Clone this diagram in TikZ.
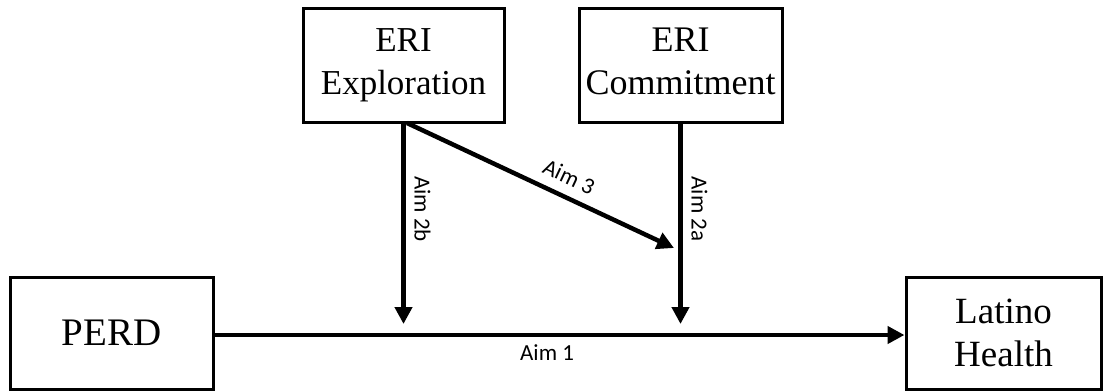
\documentclass[tikz,border=0pt]{standalone}
\usepackage{fontspec}
\setmainfont{Liberation Serif}
\newfontfamily\aimfont{Carlito}
\usetikzlibrary{arrows.meta,positioning}
\tikzset{
  caja/.style={draw, line width=3pt, align=center, font=\fontsize{35}{43}\selectfont, inner sep=0pt},
  flecha/.style={line width=4.5pt, -{Triangle[length=17pt,width=17pt]}},
  etiqueta/.style={font=\aimfont\fontsize{23}{25}\selectfont, inner sep=1pt}
}
\begin{document}
\begin{tikzpicture}[x=1pt, y=-1pt]
        \useasboundingbox (0,0) rectangle (1106,391);
        %%%%%%%%%%%%%%%%%%%%%%%% Cajas %%%%%%%%%%%%%%%%%%%%%%%%%%%%%%%%%%%
        \node[caja, minimum width=201pt, minimum height=114pt] (explo) at (403.5,65.5) {ERI\\Exploration};
        \node[caja, minimum width=203pt, minimum height=114pt, font=\fontsize{36}{43}\selectfont, text depth=8pt] (compro) at (680.5,65.5) {ERI\\Commitment};
        \node[caja, minimum width=203pt, minimum height=112pt, font=\fontsize{39}{43}\selectfont] (perd) at (111.5,333) {PERD};
        \node[caja, minimum width=195pt, minimum height=112pt, font=\fontsize{37}{43}\selectfont] (salud) at (1003.5,333) {Latino\\Health};
        %%%%%%%%%%%%%%%%%%%%%%%% Puntos de llegada %%%%%%%%%%%%%%%%%%%%%%%%%%
        \coordinate (fin2b) at (403.5,324);
        \coordinate (fin2a) at (680.5,324);
        \coordinate (fin3) at (674,248);
        \coordinate (ini3) at (407,123);
        %%%%%%%%%%%%%%%%%%%%%%%% Flechas %%%%%%%%%%%%%%%%%%%%%%%%%%%%%%%%%%
        \draw[flecha] (perd.east |- 0,335) -- (salud.west |- 0,335) node[etiqueta, pos=0.482, below=6pt] (aim1) {Aim 1}; %Aim 1
        \draw[flecha] (explo.south) -- (fin2b) node[etiqueta, pos=0.425, rotate=-90, anchor=south, outer sep=10pt] (aim2b) {Aim 2b};
        \draw[flecha] (compro.south) -- (fin2a) node[etiqueta, pos=0.425, rotate=-90, anchor=south, outer sep=10pt] (aim2a) {Aim 2a};
        \draw[flecha] (ini3) -- (fin3) node[etiqueta, pos=0.575, sloped, above=9pt] (aim3) {Aim 3}; %Moderacion
      \end{tikzpicture}
\end{document}
